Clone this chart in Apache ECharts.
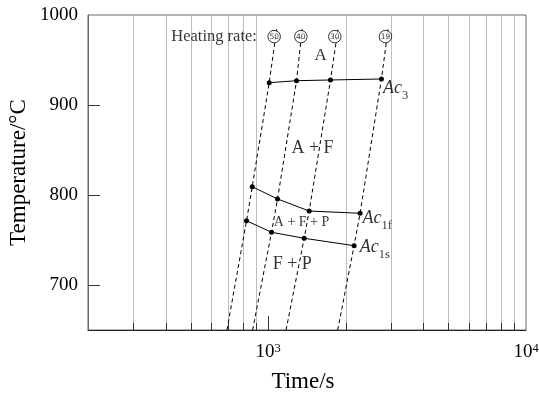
<!DOCTYPE html>
<html>
<head>
<meta charset="utf-8">
<script src="https://cdn.jsdelivr.net/npm/echarts@6/dist/echarts.min.js"></script>
<style>
  html, body { margin: 0; padding: 0; background: #fff; }
  #chart { width: 539px; height: 395px; }
</style>
</head>
<body>
<div id="chart"></div>
<script>
// Heating curves for each heating rate (dashed), read as time (s) at given temperatures (°C)
const heatingRates = ['50', '40', '30', '19'];
const curveStartTimes = [692, 870, 1173, 1860];   // at 650 °C
const curveEndTimes = [1081, 1356, 1870, 2922];   // at 986 °C
const curveStartTemp = 650;
const curveEndTemp = 986;

// Transformation points on each heating curve
const ac1sTimes = [824, 1030, 1379, 2154];
const ac1sTemps = [771.4, 758.6, 751.9, 743.7];
const ac1fTimes = [867, 1087, 1442, 2272];
const ac1fTemps = [809.2, 795.6, 782.2, 779.7];
const ac3Times = [1009, 1288, 1744, 2750];
const ac3Temps = [924.8, 927.0, 927.8, 928.9];

// Heating rate badges at the top of each curve
const badgeTimes = [1055, 1338, 1813, 2850];
const badgeTemp = 976;

// Axis settings
const timeMin = 200, timeMax = 10000;
const tempMin = 650, tempMax = 1000;
const tempTickValues = [700, 800, 900];
const tempLabelValues = [700, 800, 900, 1000];
const minorTimes = [300, 400, 500, 600, 700, 800, 900, 2000, 3000, 4000, 5000, 6000, 7000, 8000, 9000];
const majorTimes = [1000];

// Phase field and line annotations
const fieldLabels = [
  { text: 'A', t: 1596, T: 955, size: 17 },
  { text: 'A + F', t: 1486, T: 852, size: 18 },
  { text: 'A + F + P', t: 1347, T: 770, size: 14 },
  { text: 'F + P', t: 1240, T: 723, size: 18 }
];
const lineLabels = [
  { main: 'Ac', sub: '3', t: 2790, T: 916 },
  { main: 'Ac', sub: '1f', t: 2321, T: 771 },
  { main: 'Ac', sub: '1s', t: 2267, T: 739 }
];
const rateTitle = { text: 'Heating rate:', t: 904, T: 976 };

const serif = 'Liberation Serif';

function curveData(i) {
  return [
    [curveStartTimes[i], curveStartTemp],
    [ac1sTimes[i], ac1sTemps[i]],
    [ac1fTimes[i], ac1fTemps[i]],
    [ac3Times[i], ac3Temps[i]],
    [curveEndTimes[i], curveEndTemp]
  ];
}
function zipPoints(ts, Ts) { return ts.map((t, i) => [t, Ts[i]]); }

const series = [];

// vertical grid lines and bottom ticks on the log time axis
series.push({
  type: 'custom',
  z: 1,
  silent: true,
  clip: false,
  data: minorTimes.map(t => [t, 0]).concat(majorTimes.map(t => [t, 1])),
  renderItem: function (params, api) {
    const t = api.value(0);
    const major = api.value(1) === 1;
    const p0 = api.coord([t, tempMin]);
    const p1 = api.coord([t, tempMax]);
    const x = Math.round(p0[0]) + 0.5;
    const children = [];
    if (!major) {
      children.push({ type: 'line', shape: { x1: x, y1: p0[1], x2: x, y2: p1[1] },
        style: { stroke: '#bcbcbc', lineWidth: 1 } });
    }
    children.push({ type: 'line', shape: { x1: x, y1: p0[1], x2: x, y2: p0[1] - (major ? 14 : 7) },
      style: { stroke: '#333', lineWidth: 1 } });
    return { type: 'group', children: children };
  }
});

// heating curves
heatingRates.forEach((r, i) => {
  series.push({
    type: 'line',
    name: r,
    z: 2,
    data: curveData(i),
    showSymbol: false,
    symbol: 'none',
    lineStyle: { color: '#000', width: 1, type: [4, 3] },
    silent: true
  });
});

// transformation start/finish lines
[[ac3Times, ac3Temps], [ac1fTimes, ac1fTemps], [ac1sTimes, ac1sTemps]].forEach(pair => {
  series.push({
    type: 'line',
    z: 3,
    data: zipPoints(pair[0], pair[1]),
    symbol: 'circle',
    symbolSize: 5,
    itemStyle: { color: '#000' },
    lineStyle: { color: '#000', width: 1 },
    silent: true
  });
});

// heating rate badges
series.push({
  type: 'scatter',
  z: 4,
  data: badgeTimes.map((t, i) => ({ value: [t, badgeTemp], name: heatingRates[i] })),
  symbol: 'circle',
  symbolSize: 12.5,
  itemStyle: { color: '#fff', borderColor: '#000', borderWidth: 1 },
  label: {
    show: true, position: 'inside', formatter: '{b}',
    fontFamily: 'DejaVu Sans', fontSize: 7.5, color: '#000'
  },
  silent: true
});

// field labels
series.push({
  type: 'scatter',
  z: 5,
  symbolSize: 0,
  data: fieldLabels.map(f => ({
    value: [f.t, f.T], name: f.text,
    label: { fontSize: f.size }
  })),
  label: {
    show: true, position: 'inside', formatter: '{b}',
    fontFamily: serif, color: '#000'
  },
  silent: true
});

// line labels (Ac3, Ac1f, Ac1s) and the heating rate title
series.push({
  type: 'scatter',
  z: 5,
  symbolSize: 0,
  data: lineLabels.map(l => ({ value: [l.t, l.T], name: '{m|' + l.main + '}{s|' + l.sub + '}' })),
  label: {
    show: true, position: 'right', distance: 0, formatter: '{b}',
    rich: {
      m: { fontFamily: serif, fontStyle: 'italic', fontSize: 18, color: '#000', lineHeight: 20, verticalAlign: 'top' },
      s: { fontFamily: serif, fontSize: 12.5, color: '#000', lineHeight: 23, verticalAlign: 'bottom' }
    }
  },
  silent: true
});
series.push({
  type: 'scatter',
  z: 5,
  symbolSize: 0,
  data: [{ value: [rateTitle.t, rateTitle.T], name: rateTitle.text }],
  label: {
    show: true, position: 'left', distance: 0, formatter: '{b}',
    fontFamily: serif, fontSize: 16.5, color: '#000'
  },
  silent: true
});

const chart = echarts.init(document.getElementById('chart'), null, { renderer: 'canvas' });
chart.setOption({
  animation: false,
  backgroundColor: '#fff',
  grid: {
    left: 88, right: 13, top: 15, bottom: 65,
    outerBoundsMode: 'none',
    containLabel: false,
    show: true, borderColor: '#6a6a6a', borderWidth: 1, backgroundColor: 'transparent'
  },
  xAxis: {
    type: 'log',
    logBase: 10,
    min: timeMin,
    max: timeMax,
    name: 'Time/s',
    nameLocation: 'middle',
    nameGap: 40,
    nameTextStyle: { fontFamily: serif, fontSize: 23, color: '#000', padding: [0, 8, 0, 0] },
    axisLine: { show: true, lineStyle: { color: '#222', width: 1 } },
    axisTick: { show: false },
    splitLine: { show: false },
    minorTick: { show: false },
    axisLabel: {
      show: true,
      margin: 12,
      showMinLabel: true,
      showMaxLabel: true,
      formatter: function (v) {
        const e = Math.log10(v);
        if (Math.abs(e - Math.round(e)) > 1e-6) return '';
        return '{b|10}{s|' + Math.round(e) + '}';
      },
      rich: {
        b: { fontFamily: serif, fontSize: 19, color: '#000', lineHeight: 20, verticalAlign: 'bottom' },
        s: { fontFamily: serif, fontSize: 12.5, color: '#000', lineHeight: 20, verticalAlign: 'top' }
      }
    }
  },
  yAxis: {
    type: 'value',
    min: tempMin,
    max: tempMax,
    name: 'Temperature/°C',
    nameLocation: 'middle',
    nameGap: 58,
    nameMoveOverlap: false,
    nameTextStyle: { fontFamily: serif, fontSize: 23, color: '#000' },
    axisLine: { show: true, lineStyle: { color: '#6a6a6a', width: 1 } },
    axisTick: { show: true, inside: true, length: 12, customValues: tempTickValues, lineStyle: { color: '#333' } },
    splitLine: { show: false },
    axisLabel: {
      show: true, margin: 10, customValues: tempLabelValues,
      formatter: function (v) { return String(v); },
      fontFamily: serif, fontSize: 19, color: '#000'
    }
  },
  series: series
});
</script>
</body>
</html>
